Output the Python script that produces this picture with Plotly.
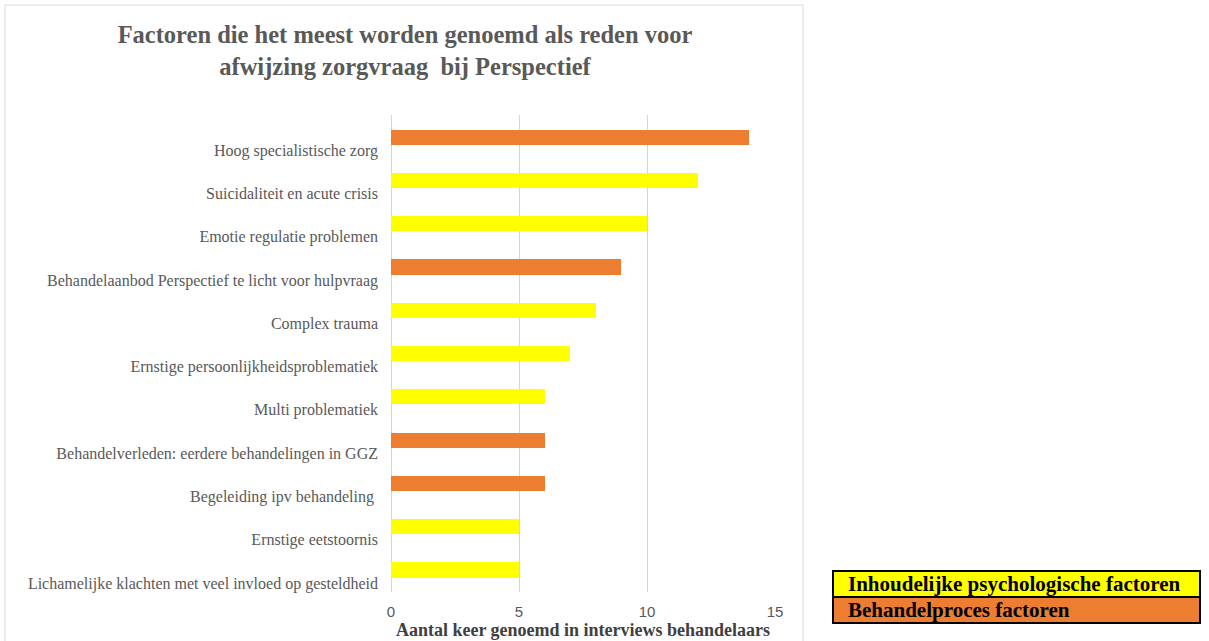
import plotly.graph_objects as go

# Reasons for rejecting a care request, top to bottom
categories = [
    "Hoog specialistische zorg",
    "Suicidaliteit en acute crisis",
    "Emotie regulatie problemen",
    "Behandelaanbod Perspectief te licht voor hulpvraag",
    "Complex trauma",
    "Ernstige persoonlijkheidsproblematiek",
    "Multi problematiek",
    "Behandelverleden: eerdere behandelingen in GGZ",
    "Begeleiding ipv behandeling\u00a0",
    "Ernstige eetstoornis",
    "Lichamelijke klachten met veel invloed op gesteldheid",
]
counts = [14, 12, 10, 9, 8, 7, 6, 6, 6, 5, 5]
groups = ["proces", "inhoud", "inhoud", "proces", "inhoud", "inhoud",
          "inhoud", "proces", "proces", "inhoud", "inhoud"]

group_names = {
    "inhoud": "Inhoudelijke psychologische factoren",
    "proces": "Behandelproces factoren",
}
group_colors = {"inhoud": "#FFFF00", "proces": "#ED7D31"}
x_ticks = [0, 5, 10, 15]

W, H = 1209, 641
L, R, T, B = 391, 775, 115, 592   # plot area in pixels
pw, ph = R - L, B - T


def px(xp):
    return (xp - L) / pw


def py(yp):
    return (B - yp) / ph


positions = list(range(len(categories)))
label_shift = 0.3

fig = go.Figure()
fig.add_trace(go.Bar(
    x=counts,
    y=positions,
    orientation="h",
    width=0.35,
    marker=dict(color=[group_colors[g] for g in groups], line=dict(width=0)),
    showlegend=False,
    hoverinfo="x",
))

grey = "#595959"
fig.update_layout(
    width=W, height=H,
    margin=dict(l=L, r=W - R, t=T, b=H - B, autoexpand=False),
    paper_bgcolor="white",
    plot_bgcolor="white",
    bargap=0,
    title=dict(
        text="<b>Factoren die het meest worden genoemd als reden voor<br>afwijzing zorgvraag  bij Perspectief</b>",
        font=dict(family="Liberation Serif", size=24.5, color=grey),
        x=px(405), xref="paper", xanchor="center",
        y=1 - 43 / H, yref="container", yanchor="middle",
    ),
    xaxis=dict(
        range=[0, 15],
        tickvals=x_ticks,
        ticktext=[str(v) for v in x_ticks],
        showgrid=True, gridcolor="#D5D5D5", gridwidth=1.4,
        zeroline=True, zerolinecolor="#D5D5D5", zerolinewidth=1.4,
        showline=False,
        ticks="",
        automargin=False,
        ticklabelstandoff=9,
        tickfont=dict(family="Liberation Sans", size=15, color=grey),
        title=dict(
            text="<b>Aantal keer genoemd in interviews behandelaars</b>",
            font=dict(family="Liberation Serif", size=18, color="#404040"),
            standoff=0,
        ),
        fixedrange=True,
    ),
    yaxis=dict(
        range=[len(categories) - 1 + 0.51, -0.51],
        tickvals=[p + label_shift for p in positions],
        ticktext=categories,
        showgrid=False, zeroline=False, showline=False,
        ticks="",
        automargin=False,
        ticklabelstandoff=12,
        tickfont=dict(family="Liberation Serif", size=16, color=grey),
        fixedrange=True,
    ),
)

shapes = [
    # outer chart frame
    dict(type="rect", xref="paper", yref="paper",
         x0=px(5), x1=px(803), y0=py(650), y1=py(5),
         line=dict(color="#D9D9D9", width=1), fillcolor="rgba(0,0,0,0)",
         layer="below"),
]
annotations = []

# category key, bottom right
key_rows = [("inhoud", 571, 597), ("proces", 597, 623)]
for g, y_top, y_bot in key_rows:
    shapes.append(dict(type="rect", xref="paper", yref="paper",
                       x0=px(833), x1=px(1200), y0=py(y_bot), y1=py(y_top),
                       fillcolor=group_colors[g], line=dict(color="black", width=2)))
    annotations.append(dict(
        xref="paper", yref="paper", x=px(846), y=py((y_top + y_bot) / 2),
        xanchor="left", yanchor="middle", showarrow=False,
        text="<b>" + group_names[g] + "</b>",
        font=dict(family="Liberation Serif", size=21, color="black"),
    ))

fig.update_layout(shapes=shapes, annotations=annotations)

fig.write_html("out.html")
